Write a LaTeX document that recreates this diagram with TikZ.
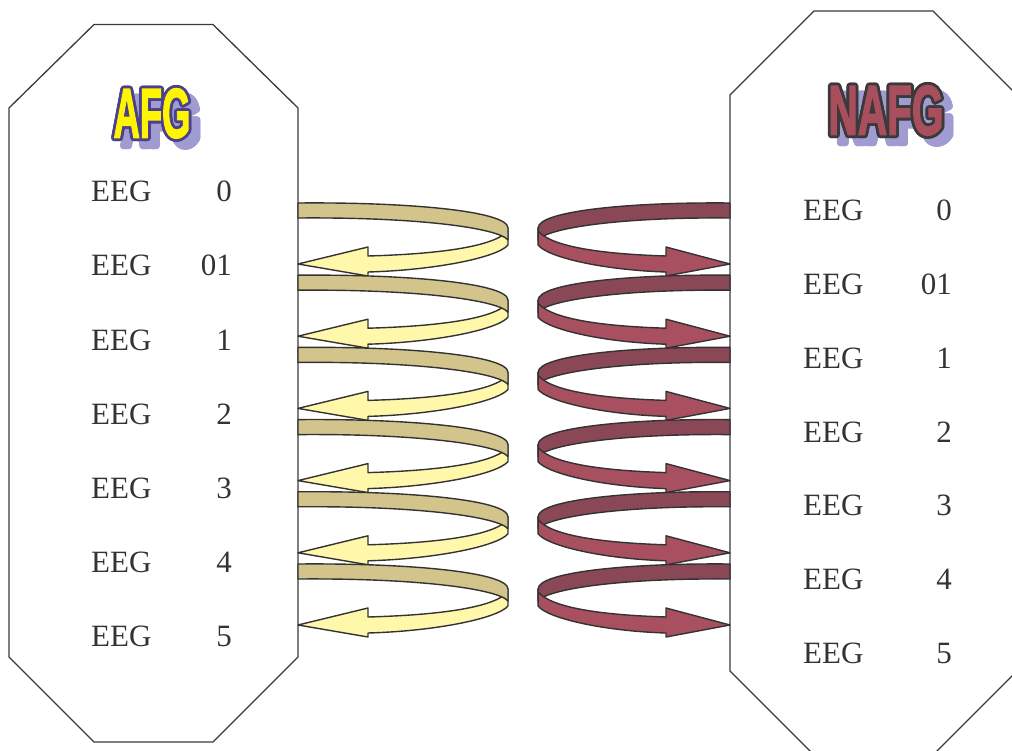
\documentclass[tikz,border=0pt]{standalone}
\usepackage{fontspec}
\usepackage{graphicx}
\setmainfont{Liberation Serif}
\newfontfamily\titlefont{Liberation Sans}[BoldFeatures={FakeBold=2.5}]
\usetikzlibrary{calc}
\definecolor{tanc}{RGB}{211,196,140}
\definecolor{yelc}{RGB}{255,247,170}
\definecolor{dredc}{RGB}{138,72,86}
\definecolor{redc}{RGB}{168,80,95}
\definecolor{edgec}{RGB}{51,51,51}
\definecolor{boxc}{RGB}{58,58,58}
\definecolor{txtc}{RGB}{51,51,51}
\definecolor{shadowc}{RGB}{160,155,208}
\definecolor{afgfill}{RGB}{255,245,0}
\definecolor{afgedge}{RGB}{75,65,140}
\definecolor{nafgfill}{RGB}{168,78,92}
\definecolor{nafgedge}{RGB}{58,58,58}
\tikzset{
  boxline/.style={draw=boxc, line width=1.3pt, line join=miter},
  lbl/.style={font=\fontsize{31pt}{31pt}\selectfont, text=txtc, inner sep=0pt},
  ttl/.style={font=\titlefont\bfseries\fontsize{70pt}{70pt}\selectfont, anchor=base, inner sep=0pt},
  backrib/.pic={\path[pic actions, draw=edgec, line width=1.4pt, line join=round]
    (0,0) .. controls (110,-1) and (210,8) .. (210,25) -- (210,37)
    .. controls (200,25) and (120,14) .. (0,15) -- cycle;},
  frontarr/.pic={\path[pic actions, draw=edgec, line width=1.4pt, line join=round]
    (210,25) -- (210,42) .. controls (200,54) and (140,67) .. (70,69)
    -- (70,73) -- (0,61) -- (70,44) -- (70,53)
    .. controls (140,51) and (195,44) .. (210,28) -- cycle;}
}
\newcommand{\ottitle}[7]{%
  \foreach \a in {0,20,...,340}{
    \node[ttl, text=shadowc] (#7s\a) at ($(#1,#2)+(9,8)+(\a:2.8)$) {\scalebox{#6}[1]{#3}};
  }
  \foreach \a in {0,20,...,340}{
    \node[ttl, text=#5] (#7o\a) at ($(#1,#2)+(\a:2.8)$) {\scalebox{#6}[1]{#3}};
  }
  \node[ttl, text=#4] (#7) at (#1,#2) {\scalebox{#6}[1]{#3}};
}
\begin{document}
\begin{tikzpicture}[x=1pt, y=-1pt]
\useasboundingbox (0,0) rectangle (1012,751);
\clip (0,0) rectangle (1012,751);
% boxes
\draw[boxline] (94,24.5) -- (213,24.5) -- (298,108) -- (298,657) -- (213,742) -- (94,742) -- (9,657) -- (9,108) -- cycle;
\draw[boxline] (814,11) -- (933,11) -- (1017,95) -- (1017,671) -- (933,755) -- (814,755) -- (730,671) -- (730,95) -- cycle;
% titles
\ottitle{152}{137.5}{AFG}{afgfill}{afgedge}{0.52}{afg}
\ottitle{886}{134.5}{NAFG}{nafgfill}{nafgedge}{0.58}{nafg}
% labels
\foreach \t [count=\i from 0] in {0,01,1,2,3,4,5}{
  \node[lbl, anchor=base west] (le\i) at (91,202+74*\i) {EEG};
  \node[lbl, anchor=base east] (ln\i) at (232,202+74*\i) {\t};
  \node[lbl, anchor=base west] (re\i) at (803,221+73.7*\i) {EEG};
  \node[lbl, anchor=base east] (rn\i) at (952,221+73.7*\i) {\t};
}
% ribbons
\foreach \k in {0,...,5}{
  \begin{scope}[shift={(298,203+72.2*\k)}]
    \pic[fill=yelc] {frontarr};
    \pic[fill=tanc] {backrib};
  \end{scope}
  \begin{scope}[shift={(730,203+72.2*\k)}, xscale=-0.914]
    \pic[fill=dredc, transform shape] {backrib};
    \pic[fill=redc, transform shape] {frontarr};
  \end{scope}
}
\end{tikzpicture}
\end{document}
